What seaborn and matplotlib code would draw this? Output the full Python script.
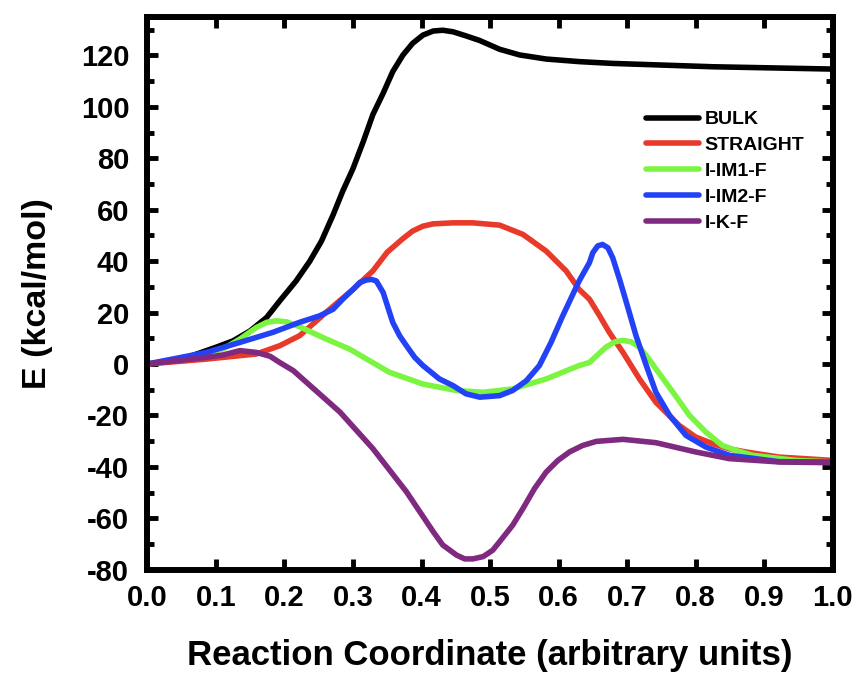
import numpy as np
import pandas as pd
import matplotlib
matplotlib.use("Agg")
import matplotlib.pyplot as plt
import seaborn as sns
from matplotlib.ticker import MultipleLocator

# ---- data ----
series_names = ["BULK", "STRAIGHT", "I-IM1-F", "I-IM2-F", "I-K-F"]
colors = ["#000000", "#E8392A", "#7CF542", "#2442F5", "#7F2A80"]

bulk_x = [0, 0.052, 0.1, 0.125, 0.15, 0.174, 0.193, 0.217, 0.237, 0.254, 0.271, 0.285, 0.30, 0.315, 0.329, 0.344, 0.358, 0.373, 0.387, 0.402, 0.417, 0.431, 0.446, 0.465, 0.485, 0.514, 0.543, 0.582, 0.63, 0.679, 0.825, 1.0]
bulk_y = [0, 2, 6.5, 9, 12.9, 18.1, 24.5, 32.3, 40, 47.8, 58, 67.2, 76, 86.5, 97, 105.3, 113.7, 120.2, 124.7, 127.9, 129.5, 129.8, 129.2, 127.6, 125.8, 122.4, 120.2, 118.6, 117.6, 116.9, 115.6, 114.7]

straight_x = [0, 0.086, 0.159, 0.193, 0.222, 0.266, 0.30, 0.329, 0.35, 0.373, 0.387, 0.402, 0.417, 0.446, 0.475, 0.514, 0.548, 0.582, 0.611, 0.63, 0.645, 0.66, 0.674, 0.694, 0.718, 0.742, 0.776, 0.80, 0.825, 0.849, 0.873, 0.922, 1.0]
straight_y = [0, 1.9, 3.9, 7.1, 11, 21.3, 29, 36.2, 43.5, 48.8, 51.7, 53.6, 54.5, 54.9, 54.9, 54, 50.4, 43.9, 36.2, 29, 25.2, 18.7, 12.3, 4.5, -5.8, -14.9, -23.9, -28.4, -31, -33, -34.2, -36.2, -37.5]

im1_x = [0, 0.06, 0.11, 0.135, 0.159, 0.174, 0.188, 0.203, 0.222, 0.261, 0.295, 0.353, 0.402, 0.451, 0.49, 0.533, 0.582, 0.63, 0.645, 0.669, 0.682, 0.694, 0.706, 0.718, 0.73, 0.742, 0.767, 0.791, 0.815, 0.839, 0.859, 0.883, 0.946, 1.0]
im1_y = [0, 2.5, 5.8, 9.7, 14.2, 16.2, 16.8, 16.4, 14.5, 9.7, 5.8, -3.2, -7.8, -10.3, -11, -9.7, -5.8, -0.6, 0.6, 6.5, 8.6, 9.2, 8.6, 6.5, 2.6, -1.9, -11, -20, -26.5, -31.7, -33.6, -35.5, -37.5, -38.1]

im2_x = [0, 0.086, 0.135, 0.183, 0.222, 0.251, 0.271, 0.285, 0.30, 0.31, 0.32, 0.327, 0.334, 0.344, 0.351, 0.358, 0.368, 0.378, 0.39, 0.402, 0.426, 0.446, 0.465, 0.485, 0.514, 0.533, 0.553, 0.572, 0.589, 0.606, 0.63, 0.645, 0.65, 0.657, 0.664, 0.672, 0.679, 0.689, 0.699, 0.713, 0.728, 0.742, 0.762, 0.786, 0.815, 0.849, 0.922, 1.0]
im2_y = [0, 4.5, 8.4, 12.3, 16.2, 18.7, 21.3, 25.2, 29, 31.7, 32.7, 32.9, 32.3, 27.8, 22, 16.2, 11, 7.1, 2.6, -0.6, -5.8, -8.4, -11.6, -12.9, -12.3, -10.3, -6.5, -0.6, 8.4, 18.7, 32.3, 39.4, 43.3, 45.9, 46.5, 45.2, 41.3, 32.9, 23.9, 11, -0.6, -11, -20, -27.8, -32.3, -35.5, -38, -38.1]

kf_x = [0, 0.086, 0.11, 0.135, 0.159, 0.179, 0.193, 0.213, 0.232, 0.281, 0.329, 0.378, 0.417, 0.431, 0.451, 0.463, 0.475, 0.49, 0.504, 0.514, 0.533, 0.548, 0.565, 0.582, 0.599, 0.616, 0.635, 0.655, 0.694, 0.742, 0.80, 0.849, 0.922, 1.0]
kf_y = [0, 2.6, 3.5, 5.2, 4.5, 3, 0.6, -2.6, -7.1, -18.7, -32.9, -49.7, -65.2, -70.4, -74.3, -75.8, -75.8, -74.9, -72.4, -69.1, -62.7, -56.2, -48.4, -42, -37.5, -34.2, -31.7, -30.1, -29.3, -30.6, -34.2, -36.8, -38.1, -38.4]

xs = [bulk_x, straight_x, im1_x, im2_x, kf_x]
ys = [bulk_y, straight_y, im1_y, im2_y, kf_y]

frames = []
for name, x, y in zip(series_names, xs, ys):
    frames.append(pd.DataFrame({"x": x, "E": y, "series": name}))
df = pd.concat(frames, ignore_index=True)

# ---- style ----
sns.set_theme(style="ticks")
plt.rcParams["font.family"] = ["Liberation Sans", "DejaVu Sans"]
plt.rcParams["font.weight"] = "bold"
plt.rcParams["axes.unicode_minus"] = False
plt.rcParams["text.color"] = "black"
plt.rcParams["axes.labelcolor"] = "black"
plt.rcParams["xtick.color"] = "black"
plt.rcParams["ytick.color"] = "black"
plt.rcParams["axes.edgecolor"] = "black"

fig = plt.figure(figsize=(8.62, 6.75), dpi=100)
ax = fig.add_axes([0.171, 0.156, 0.795, 0.819])

sns.lineplot(data=df, x="x", y="E", hue="series", hue_order=series_names,
             palette=dict(zip(series_names, colors)), estimator=None, sort=False,
             linewidth=4, ax=ax, legend=True)
for ln in ax.get_lines():
    ln.set_solid_joinstyle("round")
    ln.set_solid_capstyle("round")

ax.set_xlim(0, 1.0)
ax.set_ylim(-80, 135)
ax.set_xticks(np.round(np.arange(0, 1.01, 0.1), 1))
ax.set_xticklabels([f"{v:.1f}" for v in np.arange(0, 1.01, 0.1)])
ax.set_yticks(np.arange(-80, 121, 20))
ax.yaxis.set_minor_locator(MultipleLocator(10))

for s in ax.spines.values():
    s.set_linewidth(4.3)
    s.set_color("black")
    s.set_visible(True)

ax.tick_params(axis="both", which="major", direction="in", length=8, width=3.5,
               top=True, right=True, labelsize=21, pad=10, colors="black")
ax.tick_params(axis="y", which="major", pad=13)
ax.tick_params(axis="y", which="minor", direction="in", length=5, width=3.5,
               left=True, right=True, colors="black")
for lab in ax.get_xticklabels() + ax.get_yticklabels():
    lab.set_fontweight("bold")

ax.set_xlabel("Reaction Coordinate (arbitrary units)", fontsize=25, fontweight="bold", labelpad=20)
ax.set_ylabel("E (kcal/mol)", fontsize=24.5, fontweight="bold", labelpad=20)

leg = ax.legend(loc="upper left", bbox_to_anchor=(0.728, 0.83), frameon=False,
                prop={"weight": "bold", "size": 14}, handlelength=2.7,
                handletextpad=0.3, labelspacing=0.42, borderpad=0, borderaxespad=0)
for line in leg.get_lines():
    line.set_linewidth(4)
    line.set_solid_capstyle("round")

fig.savefig("out.png", dpi=100)
